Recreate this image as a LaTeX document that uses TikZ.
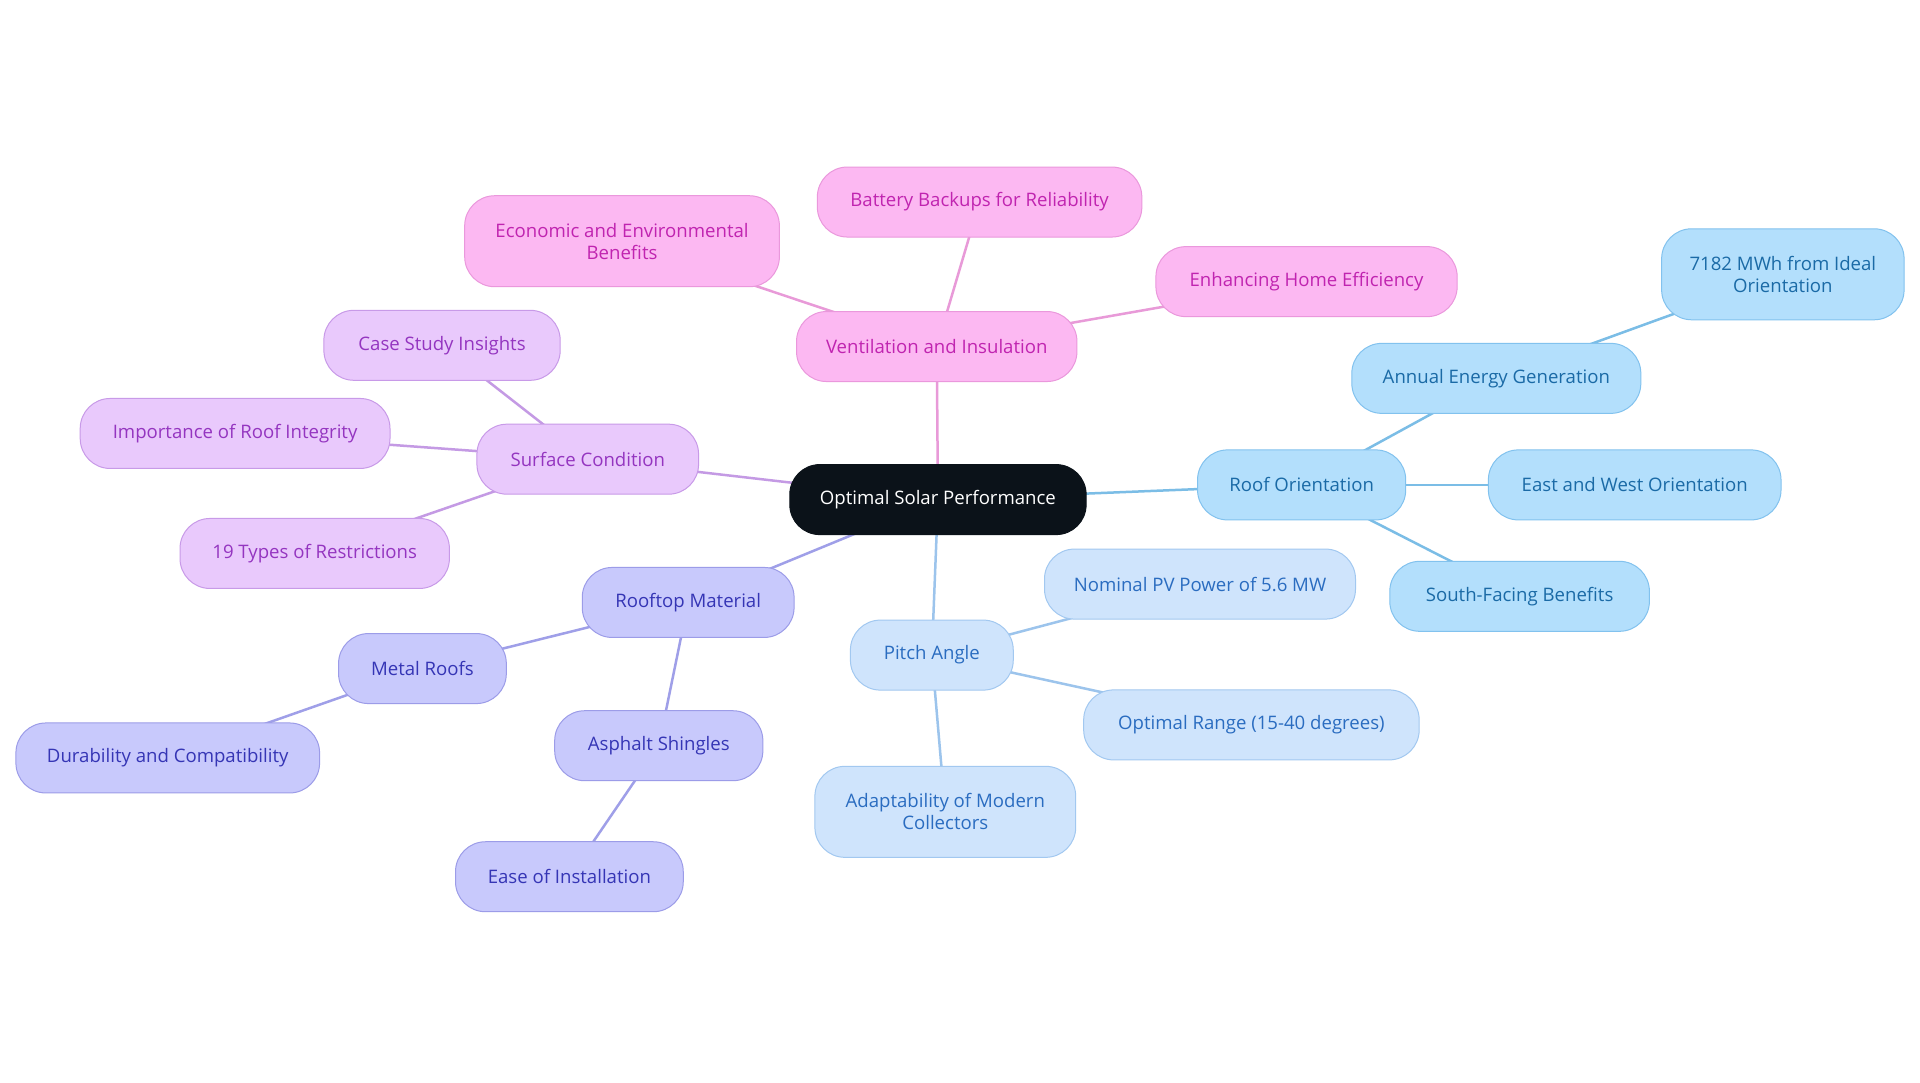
\documentclass[tikz,border=0pt]{standalone}
\usepackage{fontspec}
\setmainfont{Open Sans}
\definecolor{cfill}{HTML}{0B1219}
\definecolor{bfill}{HTML}{B3DFFC}\definecolor{bdraw}{HTML}{82C2EE}\definecolor{btext}{HTML}{1A6AA6}\definecolor{bline}{HTML}{7BBDE6}
\definecolor{lfill}{HTML}{CFE4FC}\definecolor{ldraw}{HTML}{A2C8F0}\definecolor{ltext}{HTML}{2A6CC0}\definecolor{lline}{HTML}{9CC4EC}
\definecolor{vfill}{HTML}{C8C9FC}\definecolor{vdraw}{HTML}{9C9CE8}\definecolor{vtext}{HTML}{3535B5}\definecolor{vline}{HTML}{9F9FE8}
\definecolor{pfill}{HTML}{E9C9FC}\definecolor{pdraw}{HTML}{C89AE8}\definecolor{ptext}{HTML}{9435C0}\definecolor{pline}{HTML}{C49AE4}
\definecolor{kfill}{HTML}{FCB8F2}\definecolor{kdraw}{HTML}{EA98DC}\definecolor{ktext}{HTML}{C024B0}\definecolor{kline}{HTML}{E89AD8}
\pgfdeclarelayer{bg}
\pgfsetlayers{bg,main}
\begin{document}
\begin{tikzpicture}[x=1.2245pt,y=-1.2245pt,
  box/.style={rounded corners=30pt,inner sep=0pt,align=center,minimum height=70pt,line width=1pt,font=\fontsize{18.6}{22}\selectfont},
  w/.style={minimum width=#1*1.2245pt},
  tall/.style={minimum height=91pt},
  cnode/.style={box,fill=cfill,draw=cfill,text=white},
  bnode/.style={box,fill=bfill,draw=bdraw,text=btext},
  lnode/.style={box,fill=lfill,draw=ldraw,text=ltext},
  vnode/.style={box,fill=vfill,draw=vdraw,text=vtext},
  pnode/.style={box,fill=pfill,draw=pdraw,text=ptext},
  knode/.style={box,fill=kfill,draw=kdraw,text=ktext},
  edge/.style={line width=2.5pt}]
\useasboundingbox (0,0) rectangle (1568,884.4);
% nodes
\node[cnode,w=242] (c) at (766,408) {Optimal Solar Performance};
\node[bnode,w=170] (ro) at (1063,396) {Roof Orientation};
\node[bnode,w=236] (aeg) at (1222,309) {Annual Energy Generation};
\node[bnode,w=198,tall] (mwh) at (1456,224) {7182 MWh from Ideal\\Orientation};
\node[bnode,w=239] (ew) at (1335,396) {East and West Orientation};
\node[bnode,w=212] (sf) at (1241,487) {South-Facing Benefits};
\node[lnode,w=133] (pa) at (761,535) {Pitch Angle};
\node[lnode,w=254] (npv) at (980,477) {Nominal PV Power of 5.6 MW};
\node[lnode,w=274] (or) at (1022,592) {Optimal Range (15-40 degrees)};
\node[lnode,w=213,tall] (amc) at (772,663) {Adaptability of Modern\\Collectors};
\node[vnode,w=173] (rm) at (562,492) {Rooftop Material};
\node[vnode,w=137] (mr) at (345,546) {Metal Roofs};
\node[vnode,w=248] (dc) at (137,619) {Durability and Compatibility};
\node[vnode,w=170] (as) at (538,609) {Asphalt Shingles};
\node[vnode,w=186] (ei) at (465,716) {Ease of Installation};
\node[pnode,w=181] (sc) at (480,375) {Surface Condition};
\node[pnode,w=193] (csi) at (361,282) {Case Study Insights};
\node[pnode,w=253] (iri) at (192,354) {Importance of Roof Integrity};
\node[pnode,w=220] (tr) at (257,452) {19 Types of Restrictions};
\node[knode,w=229] (vi) at (765,283) {Ventilation and Insulation};
\node[knode,w=257,tall] (eeb) at (508,197) {Economic and Environmental\\Benefits};
\node[knode,w=265] (bbr) at (800,165) {Battery Backups for Reliability};
\node[knode,w=246] (ehe) at (1067,230) {Enhancing Home Efficiency};
% edges
\begin{pgfonlayer}{bg}
\fill[white] (0,0) rectangle (1568,884.4);
\draw[edge,bline] (c.center) -- (ro.center);
\draw[edge,bline] (ro.center) -- (aeg.center);
\draw[edge,bline] (aeg.center) -- (mwh.center);
\draw[edge,bline] (ro.center) -- (ew.center);
\draw[edge,bline] (ro.center) -- (sf.center);
\draw[edge,lline] (c.center) -- (pa.center);
\draw[edge,lline] (pa.center) -- (npv.center);
\draw[edge,lline] (pa.center) -- (or.center);
\draw[edge,lline] (pa.center) -- (amc.center);
\draw[edge,vline] (c.center) -- (rm.center);
\draw[edge,vline] (rm.center) -- (mr.center);
\draw[edge,vline] (mr.center) -- (dc.center);
\draw[edge,vline] (rm.center) -- (as.center);
\draw[edge,vline] (as.center) -- (ei.center);
\draw[edge,pline] (c.center) -- (sc.center);
\draw[edge,pline] (sc.center) -- (csi.center);
\draw[edge,pline] (sc.center) -- (iri.center);
\draw[edge,pline] (sc.center) -- (tr.center);
\draw[edge,kline] (c.center) -- (vi.center);
\draw[edge,kline] (vi.center) -- (eeb.center);
\draw[edge,kline] (vi.center) -- (bbr.center);
\draw[edge,kline] (vi.center) -- (ehe.center);
\end{pgfonlayer}
\end{tikzpicture}
\end{document}
